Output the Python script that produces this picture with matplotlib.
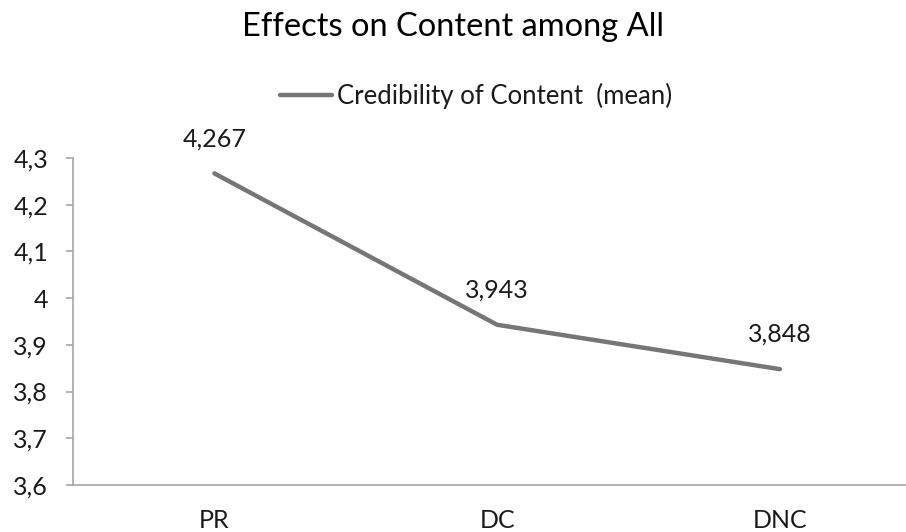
import matplotlib
matplotlib.use("Agg")
import matplotlib.pyplot as plt
from matplotlib import rcParams

categories = ["PR", "DC", "DNC"]
credibility = [4.267, 3.943, 3.848]
series_name = "Credibility of Content  (mean)"
yticks = [3.6, 3.7, 3.8, 3.9, 4.0, 4.1, 4.2, 4.3]

axisgrey = "#a6a6a6"
linegrey = "#767676"

rcParams['font.family'] = ['Lato', 'DejaVu Sans']
rcParams['text.color'] = '#1a1a1a'

fig = plt.figure(figsize=(9.06, 5.32), dpi=100)
ax = fig.add_axes([73/906, 1-485/532, (906-73)/906, (485-158)/532])

x = list(range(len(categories)))
ax.plot(x, credibility, color=linegrey, lw=3.2, solid_capstyle='round',
        solid_joinstyle='round', label=series_name)

for xi, v in zip(x, credibility):
    ax.annotate(f"{v:.3f}".replace(".", ","), (xi, v), xytext=(0, 25),
                textcoords='offset points', ha='center', va='center',
                fontsize=18)

ax.set_ylim(3.6, 4.3)
ax.set_xlim(-0.5, 2.446)
ax.set_yticks(yticks)
ax.set_yticklabels([f"{t:g}".replace(".", ",") for t in yticks], fontsize=18)
ax.set_xticks(x)
ax.set_xticklabels(categories, fontsize=18)

for s in ['top', 'right']:
    ax.spines[s].set_visible(False)
for s in ['left', 'bottom']:
    ax.spines[s].set_color(axisgrey)
    ax.spines[s].set_linewidth(1.2)
ax.tick_params(axis='y', length=5, width=1.2, color=axisgrey, pad=13,
               labelcolor='#1a1a1a')
ax.tick_params(axis='x', length=0, pad=17, labelcolor='#1a1a1a')
ax.patch.set_alpha(0)

fig.text(0.5, 1-27/532, "Effects on Content among All", ha='center',
         va='center', fontsize=23.5, color='#000000')
fig.legend(loc='center', bbox_to_anchor=(476/906, 1-96/532), frameon=False,
           fontsize=18.5, handlelength=2.0, handletextpad=0.2)

fig.savefig("out.png", dpi=100)
